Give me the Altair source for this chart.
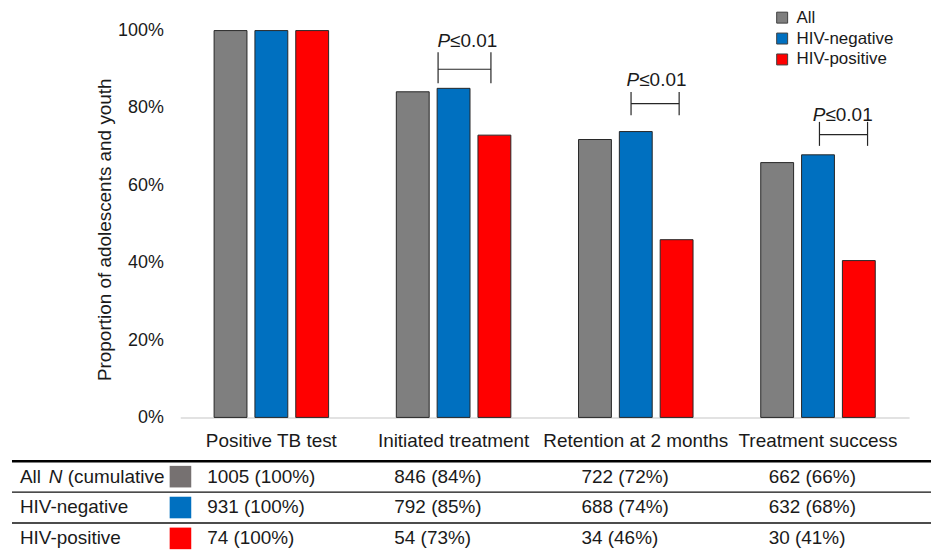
import altair as alt
import pandas as pd

# ---------------- data ----------------
stages = ["Positive TB test", "Initiated treatment", "Retention at 2 months", "Treatment success"]
groups = ["All", "HIV-negative", "HIV-positive"]
colors = ["#7f7f7f", "#0070c0", "#ff0000"]
swatch_colors = ["#767171", "#0070c0", "#ff0000"]

n_all = [1005, 846, 722, 662]
pct_all = [100, 84, 72, 66]
n_neg = [931, 792, 688, 632]
pct_neg = [100, 85, 74, 68]
n_pos = [74, 54, 34, 30]
pct_pos = [100, 73, 46, 41]

# significance brackets (x in category units: 0..4, y in proportion)
bracket_x1 = [1.415, 2.474, 3.508]
bracket_x2 = [1.705, 2.738, 3.772]
bracket_y = [0.900, 0.811, 0.731]
tick_top = [0.944, 0.841, 0.764]
tick_bottom = [0.864, 0.781, 0.702]
label_x = [1.481, 2.519, 3.541]
label_y = [0.957, 0.858, 0.766]
label_p = "P"
label_rest = "\u22640.01"

table_rows = ["All", "HIV-negative", "HIV-positive"]
table_cols = ["label"] + stages

FONT = "Liberation Sans"
TXT = "#1a1a1a"

# ---------------- frames ----------------
counts = {"All": n_all, "HIV-negative": n_neg, "HIV-positive": n_pos}
pcts = {"All": pct_all, "HIV-negative": pct_neg, "HIV-positive": pct_pos}

bar_rows = []
for g in groups:
    base = counts[g][0]
    for i, s in enumerate(stages):
        bar_rows.append({"stage": s, "group": g, "value": counts[g][i] / base})
bars_df = pd.DataFrame(bar_rows)

hline_df = pd.DataFrame({"x1": bracket_x1, "x2": bracket_x2, "y": bracket_y})
ticks_df = pd.DataFrame({
    "x": bracket_x1 + bracket_x2,
    "y1": tick_top + tick_top,
    "y2": tick_bottom + tick_bottom,
})
lab_df = pd.DataFrame({"x": label_x, "y": label_y, "p": [label_p] * 3, "rest": [label_rest] * 3})

vals = []
for r in table_rows:
    for i, s in enumerate(stages):
        vals.append({"row": r, "col": s, "txt": f"{counts[r][i]} ({pcts[r][i]}%)"})
vals_df = pd.DataFrame(vals)

sw_df = pd.DataFrame({"row": table_rows, "col": ["label"] * 3, "color": swatch_colors})

# ---------------- top chart ----------------
W = 923
XR = [169, 901]
YMAX = 410 / 388.5

yscale = alt.Scale(domain=[0, YMAX], nice=False, zero=True)
yaxis = alt.Axis(values=[0, 0.2, 0.4, 0.6, 0.8, 1.0], format=".0%", offset=-169,
                 domain=False, ticks=False, grid=False, labelFontSize=18,
                 labelColor=TXT, labelPadding=17, labelFont=FONT,
                 title="Proportion of adolescents and youth", titleFontSize=19,
                 titleFontWeight="normal", titleColor=TXT, titlePadding=3,
                 titleY=221, titleFont=FONT)

bars = alt.Chart(bars_df).mark_bar(stroke="#262626", strokeWidth=1).encode(
    x=alt.X("stage:N", sort=stages, title=None,
            scale=alt.Scale(range=XR, paddingInner=0, paddingOuter=0),
            axis=alt.Axis(labelAngle=0, labelFontSize=19, labelColor=TXT, labelPadding=14,
                          labelLimit=0, ticks=False, domainColor="#d9d9d9", domainWidth=1.5,
                          labelFont=FONT)),
    xOffset=alt.XOffset("group:N", sort=groups,
                        scale=alt.Scale(paddingInner=0.195, paddingOuter=0.829)),
    y=alt.Y("value:Q", scale=yscale, axis=yaxis),
    color=alt.Color("group:N", sort=groups, scale=alt.Scale(domain=groups, range=colors),
                    legend=alt.Legend(title=None, orient="none", legendX=765, legendY=0,
                                      symbolType="square", symbolSize=121,
                                      symbolStrokeColor="#404040", symbolStrokeWidth=1,
                                      labelFontSize=17, labelOffset=6, rowPadding=3,
                                      labelColor=TXT, labelFont=FONT)),
)

qx = alt.Scale(domain=[0, 4], range=XR)

hl = alt.Chart(hline_df).mark_rule(color="#262626", strokeWidth=1.2).encode(
    x=alt.X("x1:Q", scale=qx, axis=None), x2="x2:Q",
    y=alt.Y("y:Q", scale=yscale, axis=yaxis),
)
tk = alt.Chart(ticks_df).mark_rule(color="#262626", strokeWidth=1.2).encode(
    x=alt.X("x:Q", scale=qx, axis=None),
    y=alt.Y("y1:Q", scale=yscale, axis=yaxis), y2="y2:Q",
)
tp = alt.Chart(lab_df).mark_text(align="right", baseline="alphabetic", fontSize=19,
                                 fontStyle="italic", font=FONT, color=TXT).encode(
    x=alt.X("x:Q", scale=qx, axis=None),
    y=alt.Y("y:Q", scale=yscale, axis=yaxis), text="p:N",
)
tr = alt.Chart(lab_df).mark_text(align="left", baseline="alphabetic", fontSize=19,
                                 font=FONT, color=TXT).encode(
    x=alt.X("x:Q", scale=qx, axis=None),
    y=alt.Y("y:Q", scale=yscale, axis=yaxis), text="rest:N",
)

top = alt.layer(bars, hl, tk, tp, tr).resolve_scale(x="independent").properties(
    width=W, height=410)

# ---------------- table ----------------
tx = alt.Scale(domain=table_cols, range=[0, 940], paddingInner=0, paddingOuter=0)
ty = alt.Scale(domain=table_rows, paddingInner=0, paddingOuter=0)

col_df = pd.DataFrame({"col": table_cols})
vlines = alt.Chart(col_df).mark_rule(color="#111", strokeWidth=1.3).encode(
    x=alt.X("col:N", scale=tx, axis=None, bandPosition=0),
    y=alt.value(0), y2=alt.value({"expr": "height"}),
)
left_border = alt.Chart(pd.DataFrame({"row": ["All"]})).mark_rule(
    color="#111", strokeWidth=1.4).encode(
    x=alt.value(0.8), y=alt.value(0), y2=alt.value({"expr": "height"}),
)
row_df = pd.DataFrame({"row": table_rows})
hlines = alt.Chart(row_df).transform_filter(alt.datum.row != "All").mark_rule(
    color="#111", strokeWidth=1.4).encode(
    y=alt.Y("row:N", scale=ty, axis=None, bandPosition=0),
    x=alt.value(0), x2=alt.value({"expr": "width"}),
)
top_rule = alt.Chart(row_df).transform_filter(alt.datum.row == "All").mark_rule(
    color="black", strokeWidth=2.6).encode(
    y=alt.Y("row:N", scale=ty, axis=None, bandPosition=0),
    x=alt.value(0), x2=alt.value({"expr": "width"}),
)
val_text = alt.Chart(vals_df).mark_text(align="left", baseline="middle", dx=8, fontSize=19,
                                        font=FONT, color=TXT).encode(
    x=alt.X("col:N", scale=tx, axis=None, bandPosition=0),
    y=alt.Y("row:N", scale=ty, axis=None),
    text="txt:N",
)

lab_rows = pd.DataFrame({
    "row": ["All", "All", "All", "HIV-negative", "HIV-positive"],
    "col": ["label"] * 5,
    "txt": ["All", "N", "(cumulative", "HIV-negative", "HIV-positive"],
    "style": ["normal", "italic", "normal", "normal", "normal"],
    "off": [8, 37, 56, 8, 8],
})
row_text_parts = []
for st in ["normal", "italic"]:
    for off in sorted(set(lab_rows[lab_rows["style"] == st]["off"])):
        sub = lab_rows[(lab_rows["style"] == st) & (lab_rows["off"] == off)]
        row_text_parts.append(
            alt.Chart(sub).mark_text(align="left", baseline="middle", dx=int(off), fontSize=19,
                                     fontStyle=st, font=FONT, color=TXT).encode(
                x=alt.X("col:N", scale=tx, axis=None, bandPosition=0),
                y=alt.Y("row:N", scale=ty, axis=None),
                text="txt:N",
            )
        )

swatches = alt.Chart(sw_df).mark_point(shape="square", size=470, filled=True, opacity=1).encode(
    x=alt.X("col:N", scale=tx, axis=None, bandPosition=0.90),
    y=alt.Y("row:N", scale=ty, axis=None),
    color=alt.Color("color:N", scale=None, legend=None),
)

table = alt.layer(val_text, *row_text_parts, swatches, vlines, left_border, hlines,
                  top_rule).properties(width=W, height=93)

chart = alt.vconcat(top, table, spacing=9).properties(
    padding={"left": 2, "top": 0, "right": 0, "bottom": 0}
).configure(font=FONT).configure_view(strokeWidth=0, stroke="transparent")

chart.save("out.html", embed_options={"renderer": "svg", "actions": False})
